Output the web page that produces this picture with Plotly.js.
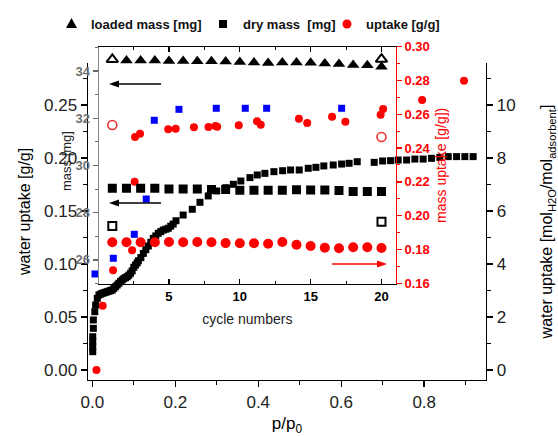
<!DOCTYPE html>
<html>
<head>
<meta charset="utf-8">
<script src="https://cdn.plot.ly/plotly-3.0.1.min.js"></script>
<style>html,body{margin:0;padding:0;background:#fff;}#chart{width:558px;height:436px;}</style>
</head>
<body>
<div id="chart"></div>
<script>
// ---- main plot: isotherm (p/p0 vs water uptake g/g) ----
const isoP = [0.001,0.001,0.001,0.001,0.0025,0.0025,0.006,0.008,0.012,0.016,0.020,0.024,0.028,0.032,0.036,0.040,0.044,0.048,0.052,0.056,0.060,0.064,0.068,0.072,0.076,0.080,0.084,0.088,0.092,0.096,0.100,0.104,0.108,0.111,0.117,0.123,0.129,0.135,0.141,0.147,0.153,0.159,0.165,0.171,0.177,0.183,0.189,0.195,0.2017,0.219,0.241,0.2595,0.2795,0.2998,0.322,0.340,0.358,0.380,0.3976,0.416,0.4378,0.4588,0.478,0.4988,0.5205,0.539,0.558,0.5807,0.601,0.619,0.6386,0.6795,0.6998,0.719,0.7373,0.7576,0.7776,0.7976,0.8178,0.8378,0.858,0.878,0.898,0.918];
const isoW = [0.0173,0.022,0.0267,0.0314,0.0393,0.0472,0.055,0.0613,0.0676,0.0708,0.0716,0.0723,0.0728,0.0733,0.0739,0.0744,0.0749,0.0755,0.077,0.0786,0.0802,0.0818,0.0834,0.0849,0.0862,0.0872,0.088,0.0895,0.0912,0.0935,0.0969,0.0990,0.1010,0.1030,0.1060,0.110,0.1135,0.117,0.1205,0.1242,0.1265,0.129,0.1305,0.132,0.1328,0.1337,0.1357,0.1377,0.1408,0.1462,0.1516,0.1582,0.1642,0.1689,0.172,0.1752,0.1783,0.1815,0.184,0.1855,0.1871,0.188,0.1887,0.1887,0.1903,0.1912,0.1925,0.1934,0.1943,0.195,0.1965,0.1959,0.1972,0.1975,0.1981,0.1981,0.199,0.199,0.1997,0.2006,0.2013,0.2013,0.2013,0.2013];

const redP = [0.01,0.025,0.05,0.096,0.102,0.103,0.115,0.183,0.201,0.245,0.28,0.297,0.301,0.353,0.397,0.406,0.498,0.518,0.578,0.61,0.695,0.701,0.795,0.896];
const redW = [0.0,0.0607,0.094,0.113,0.1776,0.2198,0.2229,0.2271,0.2276,0.229,0.2292,0.2302,0.2295,0.2308,0.2346,0.2314,0.2371,0.233,0.239,0.2342,0.2408,0.2462,0.2547,0.2729];

const blueP = [0.0065,0.0506,0.1012,0.130,0.1494,0.2089,0.2988,0.3687,0.4202,0.601];
const blueW = [0.0906,0.1054,0.128,0.1613,0.2356,0.2459,0.2469,0.2469,0.2469,0.2469];

// ---- inset: cycling ----
const cycles = [1,2,3,4,5,6,7,8,9,10,11,12,13,14,15,16,17,18,19,20];
const loadedCycles = [2,3,4,5,6,7,8,9,10,11,12,13,14,15,16,17,18,19,20];
const loadedMass = [34.44,34.44,34.44,34.42,34.42,34.41,34.41,34.40,34.38,34.36,34.34,34.36,34.36,34.35,34.32,34.30,34.25,34.24,34.18];
const loadedOpenCycles = [1,20];
const loadedOpenMass = [34.49,34.50];
const dryMass = [29.04,29.04,29.04,29.04,29.00,29.00,29.00,28.98,28.98,28.95,28.95,28.95,28.95,28.97,28.96,28.96,28.94,28.90,28.90,28.90];
const dryOpenCycles = [1,20];
const dryOpenMass = [27.44,27.62];
const uptake = [0.1843,0.1843,0.1843,0.1843,0.1844,0.1843,0.1844,0.1843,0.1838,0.1837,0.1837,0.1834,0.1844,0.1828,0.1821,0.1811,0.1807,0.1813,0.1813,0.1809];
const uptakeOpenCycles = [1,20];
const uptakeOpen = [0.2537,0.2466];

const F = 'Liberation Sans, Arial, sans-serif';
const RED = '#ff0000';

const traces = [
  {x: isoP, y: isoW, xaxis:'x', yaxis:'y', mode:'markers', type:'scatter', name:'isotherm',
   marker:{symbol:'square', size:7, color:'#000'}},
  {x: redP, y: redW, xaxis:'x', yaxis:'y', mode:'markers', type:'scatter', name:'uptake red',
   marker:{symbol:'circle', size:8, color:RED}},
  {x: blueP, y: blueW, xaxis:'x', yaxis:'y', mode:'markers', type:'scatter', name:'blue',
   marker:{symbol:'square', size:7, color:'#0000ff'}},
  {x: [], y: [], xaxis:'x', yaxis:'y2', mode:'markers', type:'scatter', name:'mol', hoverinfo:'skip'},
  {x: loadedCycles, y: loadedMass, xaxis:'x2', yaxis:'y3', mode:'markers', type:'scatter', name:'loaded mass [mg]',
   marker:{symbol:'triangle-up', size:11, color:'#000'}},
  {x: loadedOpenCycles, y: loadedOpenMass, xaxis:'x2', yaxis:'y3', mode:'markers', type:'scatter', name:'loaded open',
   marker:{symbol:'triangle-up-open', size:10, color:'#000', line:{width:2}}},
  {x: cycles, y: dryMass, xaxis:'x2', yaxis:'y3', mode:'markers', type:'scatter', name:'dry mass [mg]',
   marker:{symbol:'square', size:9, color:'#000'}},
  {x: dryOpenCycles, y: dryOpenMass, xaxis:'x2', yaxis:'y3', mode:'markers', type:'scatter', name:'dry open',
   marker:{symbol:'square-open', size:8, color:'#000', line:{width:2}}},
  {x: cycles, y: uptake, xaxis:'x2', yaxis:'y4', mode:'markers', type:'scatter', name:'uptake [g/g]',
   marker:{symbol:'circle', size:10, color:RED}},
  {x: uptakeOpenCycles, y: uptakeOpen, xaxis:'x2', yaxis:'y4', mode:'markers', type:'scatter', name:'uptake open',
   marker:{symbol:'circle-open', size:9, color:'#f03030', line:{width:1.6}}}
];

// paper helpers for legend / arrow placement (plot area: x 88..486, y 46..380)
const PX = p => (p-88)/398;
const PY = p => (380-p)/334;

function arrowShapes(xTail, xTip, yPix, color) {
  const dir = xTip < xTail ? 1 : -1;
  const base = xTip + dir*10;
  return [
    {type:'line', xref:'paper', yref:'paper', x0:PX(xTail), x1:PX(base), y0:PY(yPix), y1:PY(yPix),
     line:{color:color, width:1.5}},
    {type:'path', xref:'paper', yref:'paper', fillcolor:color, line:{width:0},
     path:`M ${PX(xTip)},${PY(yPix)} L ${PX(base)},${PY(yPix-3.5)} L ${PX(base)},${PY(yPix+3.5)} Z`}
  ];
}

const layout = {
  width:558, height:436,
  margin:{l:88, r:72, t:46, b:56},
  paper_bgcolor:'#fff', plot_bgcolor:'rgba(0,0,0,0)',
  showlegend:false,
  font:{family:F, color:'#000'},
  xaxis:{domain:[0,1], range:[-0.0104,0.949], anchor:'y',
    showline:true, linecolor:'#000', linewidth:1.4, ticks:'outside', ticklen:6, tickwidth:1.4, tickcolor:'#000',
    dtick:0.2, tick0:0, tickformat:'.1f', showgrid:false, zeroline:false,
    minor:{dtick:0.1, ticks:'outside', ticklen:4, tickwidth:1.2, tickcolor:'#000', showgrid:false},
    tickfont:{size:17, family:F, color:'#222'},
    title:{text:'p/p<sub>0</sub>', font:{size:17, family:F}, standoff:12}},
  yaxis:{domain:[0,0.9491], range:[-0.00943,0.28962], anchor:'x',
    showline:true, linecolor:'#000', linewidth:1.4, ticks:'outside', ticklen:6, tickwidth:1.4, tickcolor:'#000',
    dtick:0.05, tick0:0, tickformat:'.2f', showgrid:false, zeroline:false,
    minor:{dtick:0.025, ticks:'outside', ticklen:4, tickwidth:1.2, tickcolor:'#000', showgrid:false},
    tickfont:{size:17, family:F, color:'#222'}},
  yaxis2:{overlaying:'y', side:'right', anchor:'x', range:[-0.3774,11.585],
    showline:true, linecolor:'#000', linewidth:1.4, ticks:'outside', ticklen:6, tickwidth:1.4, tickcolor:'#000',
    dtick:2, tick0:0, showgrid:false, zeroline:false,
    minor:{dtick:1, ticks:'outside', ticklen:4, tickwidth:1.2, tickcolor:'#000', showgrid:false},
    tickfont:{size:17, family:F, color:'#222'},
    title:{text:'water uptake [mol<sub>H2O</sub>/mol<sub>adsorbent</sub>]', font:{size:16, family:F}, standoff:26}},
  xaxis2:{domain:[0.0276,0.773], anchor:'y3', range:[0.06,21],
    showline:true, linecolor:'#000', linewidth:1.1, mirror:'ticks', ticks:'inside', ticklen:5, tickwidth:1.1, tickcolor:'#000',
    dtick:5, tick0:0, showgrid:false, zeroline:false,
    minor:{dtick:2.5, ticks:'inside', ticklen:3, tickwidth:1, tickcolor:'#000', showgrid:false},
    tickfont:{size:13, family:F, weight:'bold', color:'#000'},
    title:{text:'cycle numbers', font:{size:14, family:F, color:'#222'}, standoff:11}},
  yaxis3:{domain:[0.2874,0.998], anchor:'x2', range:[24.98,35.03],
    showline:true, linecolor:'#8a8a8a', linewidth:1.3, ticks:'outside', ticklen:5, tickwidth:1.2, tickcolor:'#666',
    dtick:2, tick0:0, showgrid:false, zeroline:false,
    minor:{dtick:1, ticks:'outside', ticklen:3, tickwidth:1, tickcolor:'#666', showgrid:false},
    tickfont:{size:13, family:F, weight:'bold', color:'#707070'}},
  yaxis4:{overlaying:'y3', side:'right', anchor:'x2', range:[0.1596,0.30],
    showline:true, linecolor:RED, linewidth:1.2, ticks:'outside', ticklen:5, tickwidth:1.2, tickcolor:RED,
    dtick:0.02, tick0:0.16, tickformat:'.2f', showgrid:false, zeroline:false,
    minor:{dtick:0.01, ticks:'outside', ticklen:3, tickwidth:1, tickcolor:RED, showgrid:false},
    tickfont:{size:13, family:F, weight:'bold', color:RED},
    title:{text:'mass uptake [g/g])', font:{size:14, family:F, color:RED}, standoff:6}},
  shapes:[
    {type:'path', xref:'paper', yref:'paper',
     path:`M ${PX(66)},${PY(28)} L ${PX(77)},${PY(28)} L ${PX(71.5)},${PY(18)} Z`,
     fillcolor:'#000', line:{width:0}},
    {type:'rect', xref:'paper', yref:'paper', x0:PX(219), x1:PX(227), y0:PY(28), y1:PY(20),
     fillcolor:'#000', line:{width:0}},
    {type:'circle', xref:'paper', yref:'paper', x0:PX(342.5), x1:PX(351.5), y0:PY(28.5), y1:PY(19.5),
     fillcolor:RED, line:{width:0}},
    ...arrowShapes(161, 109, 84, '#000'),
    ...arrowShapes(161, 109, 203, '#000'),
    ...arrowShapes(332, 387, 264, RED)
  ],
  annotations:[
    {xref:'paper', yref:'paper', x:PX(89), y:PY(24), xanchor:'left', yanchor:'middle', showarrow:false,
     text:'loaded mass [mg]', font:{size:13, family:F, weight:'bold', color:'#111'}},
    {xref:'paper', yref:'paper', x:PX(241), y:PY(24), xanchor:'left', yanchor:'middle', showarrow:false,
     text:'dry mass\u00a0 [mg]', font:{size:13, family:F, weight:'bold', color:'#111'}},
    {xref:'paper', yref:'paper', x:PX(364), y:PY(24), xanchor:'left', yanchor:'middle', showarrow:false,
     text:'uptake [g/g]', font:{size:13, family:F, weight:'bold', color:'#111'}},
    // y-axis titles placed as in the reference
    {xref:'paper', yref:'paper', x:PX(24), y:PY(212), xanchor:'center', yanchor:'middle', showarrow:false,
     textangle:-90, text:'water uptake [g/g]', font:{size:16, family:F, color:'#000'}},
    {xref:'paper', yref:'paper', x:PX(66), y:PY(161), xanchor:'center', yanchor:'middle', showarrow:false,
     textangle:-90, text:'mass [mg]', font:{size:13, family:F, color:'#222'}}
  ]
};

Plotly.newPlot('chart', traces, layout, {staticPlot:true, displayModeBar:false});
</script>
</body>
</html>
